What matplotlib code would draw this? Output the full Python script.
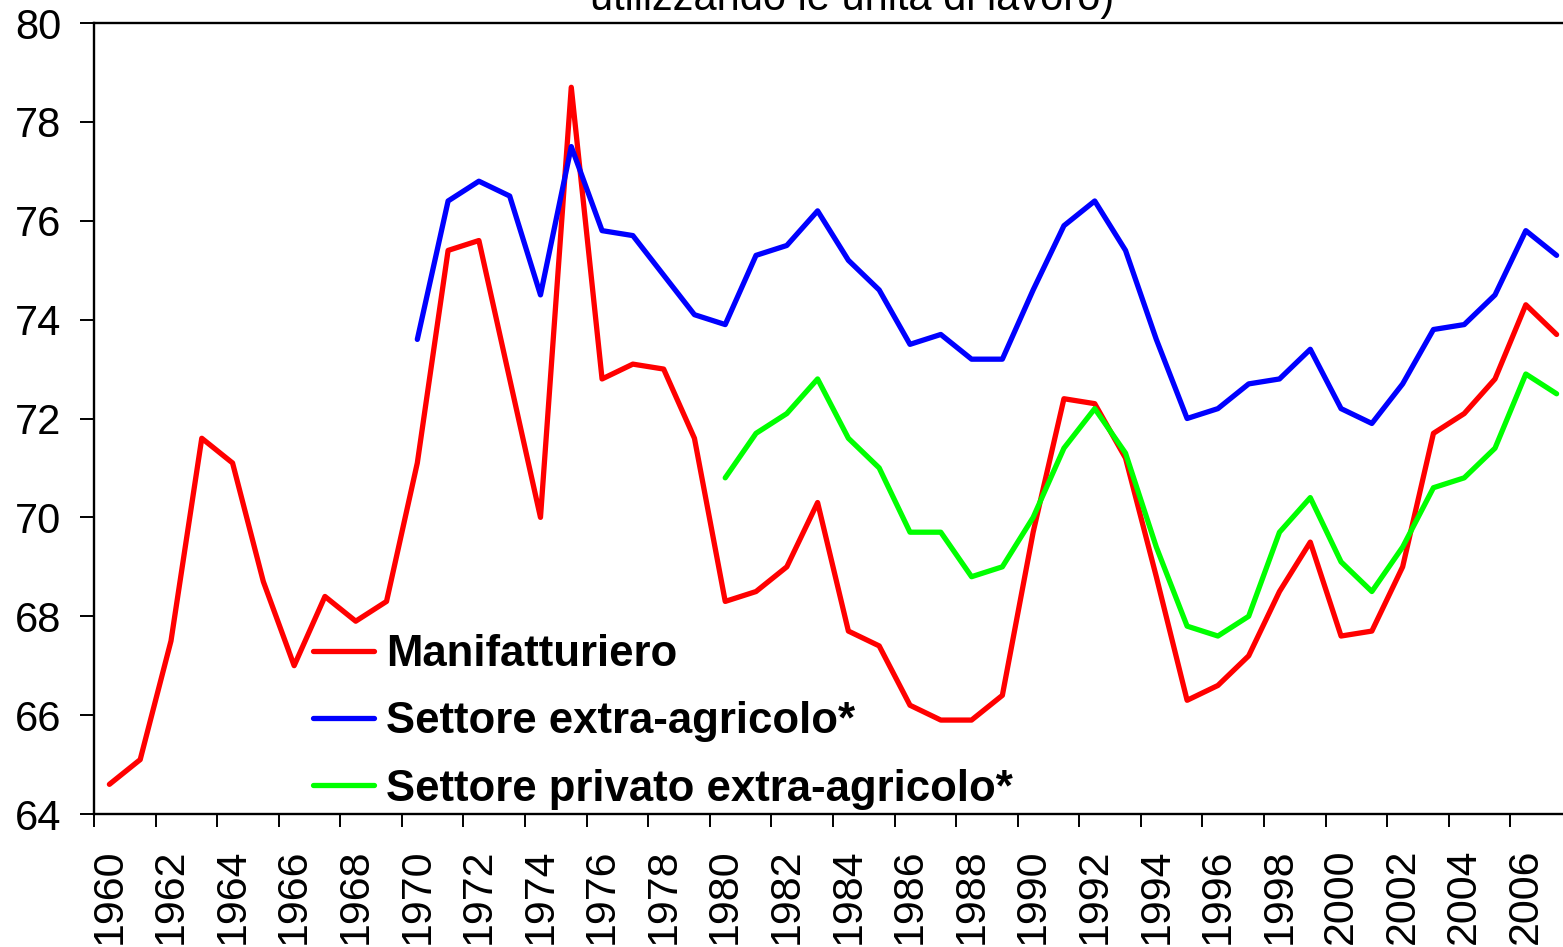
import numpy as np
import matplotlib
matplotlib.use("Agg")
import matplotlib.pyplot as plt
from matplotlib.ticker import FixedLocator

plt.rcParams['font.family'] = ['Liberation Sans', 'DejaVu Sans']

years = list(range(1960, 2008))

manifatturiero = [64.6, 65.1, 67.5, 71.6, 71.1, 68.7, 67.0, 68.4, 67.9, 68.3,
                  71.1, 75.4, 75.6, 72.8, 70.0, 78.7, 72.8, 73.1, 73.0, 71.6,
                  68.3, 68.5, 69.0, 70.3, 67.7, 67.4, 66.2, 65.9, 65.9, 66.4,
                  69.7, 72.4, 72.3, 71.2, 68.8, 66.3, 66.6, 67.2, 68.5, 69.5,
                  67.6, 67.7, 69.0, 71.7, 72.1, 72.8, 74.3, 73.7]

extra_agricolo_start = 1970
extra_agricolo = [73.6, 76.4, 76.8, 76.5, 74.5, 77.5, 75.8, 75.7, 74.9, 74.1,
                  73.9, 75.3, 75.5, 76.2, 75.2, 74.6, 73.5, 73.7, 73.2, 73.2,
                  74.6, 75.9, 76.4, 75.4, 73.6, 72.0, 72.2, 72.7, 72.8, 73.4,
                  72.2, 71.9, 72.7, 73.8, 73.9, 74.5, 75.8, 75.3]

privato_start = 1980
privato_extra_agricolo = [70.8, 71.7, 72.1, 72.8, 71.6, 71.0, 69.7, 69.7, 68.8, 69.0,
                          70.0, 71.4, 72.2, 71.3, 69.4, 67.8, 67.6, 68.0, 69.7, 70.4,
                          69.1, 68.5, 69.4, 70.6, 70.8, 71.4, 72.9, 72.5]

labels = ["Manifatturiero", "Settore extra-agricolo*", "Settore privato extra-agricolo*"]
colors = ["#FF0000", "#0000FF", "#00FF00"]
title_text = "utilizzando le unità di lavoro)"

W, H = 1563, 947
fig = plt.figure(figsize=(W / 100, H / 100), dpi=100)
fig.patch.set_facecolor("white")

left_px, right_px, top_px, bottom_px = 94, 1572, 23, 814
ax = fig.add_axes([left_px / W, (H - bottom_px) / H,
                   (right_px - left_px) / W, (bottom_px - top_px) / H])

LW = 3.8
idx = np.arange(len(years))
ax.plot(idx, manifatturiero, color=colors[0], lw=LW, label=labels[0],
        solid_capstyle="round", solid_joinstyle="round")
i0 = years.index(extra_agricolo_start)
ax.plot(idx[i0:i0 + len(extra_agricolo)], extra_agricolo, color=colors[1], lw=LW,
        label=labels[1], solid_capstyle="round", solid_joinstyle="round")
i1 = years.index(privato_start)
ax.plot(idx[i1:i1 + len(privato_extra_agricolo)], privato_extra_agricolo, color=colors[2],
        lw=LW, label=labels[2], solid_capstyle="round", solid_joinstyle="round")

ax.set_xlim(-0.5, len(years) - 0.5)
ax.set_ylim(64, 80)
ax.set_yticks(np.arange(64, 81, 2))
ax.set_yticklabels([str(v) for v in range(64, 81, 2)], fontsize=30)

ax.set_xticks(idx[::2])
ax.set_xticklabels([str(y) for y in years[::2]], rotation=90, fontsize=31)
ax.xaxis.set_minor_locator(FixedLocator(np.arange(-0.5, len(years), 2)))

ax.tick_params(axis="x", which="major", length=0, pad=25)
ax.tick_params(axis="x", which="minor", length=9.5, width=1.4, direction="out")
ax.tick_params(axis="y", which="major", length=10, width=1.4, direction="out", pad=13.5)

for s in ax.spines.values():
    s.set_linewidth(1.7)
    s.set_color("black")

leg = ax.legend(loc="upper left", frameon=False, borderpad=0, borderaxespad=0,
                handlelength=1.4, handletextpad=0.28, labelspacing=0.6,
                prop={"weight": "bold", "size": 31.5})
leg.set_bbox_to_anchor((313 / W, (H - 634) / H), transform=fig.transFigure)

fig.text(852 / W, (H - 10) / H, title_text, ha="center", va="baseline", fontsize=30)

fig.savefig("out.png", dpi=100, facecolor="white")
